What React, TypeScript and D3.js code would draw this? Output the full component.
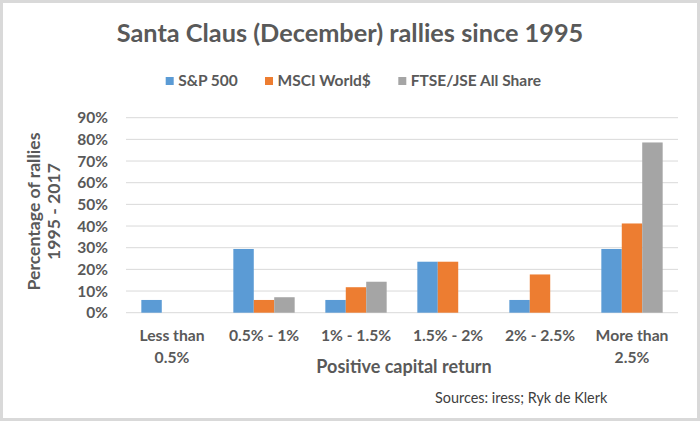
import React from "react";
import * as d3 from "d3";

const categories = ["Less than|0.5%", "0.5% - 1%", "1% - 1.5%", "1.5% - 2%", "2% - 2.5%", "More than|2.5%"];
const seriesNames = ["S&P 500", "MSCI World$", "FTSE/JSE All Share"];
const sp500 = [5.88, 29.41, 5.88, 23.53, 5.88, 29.41];
const msciWorld = [0, 5.88, 11.76, 23.53, 17.65, 41.18];
const ftseJse = [0, 7.14, 14.29, 0, 0, 78.57];
const yTicks = [0, 10, 20, 30, 40, 50, 60, 70, 80, 90];
const colors = ["#5b9bd5", "#ed7d31", "#a5a5a5"];

const W = 700;
const H = 421;
const plot = { left: 126, right: 678, top: 117.7, bottom: 312.7 };
const textColor = "#595959";
const font = "Lato, 'Open Sans', sans-serif";

const App = () => {
  const series = [sp500, msciWorld, ftseJse];
  const x = d3.scaleBand<string>().domain(categories).range([plot.left, plot.right]).padding(0);
  // Excel-style gap width: 150% of one bar
  const inner = d3
    .scaleBand<number>()
    .domain([0, 1, 2])
    .range([0, x.bandwidth()])
    .paddingInner(0)
    .paddingOuter(0.75);
  const y = d3.scaleLinear().domain([0, 90]).range([plot.bottom, plot.top]);

  // legend layout
  const legendX = [165.7, 265, 398.3];

  return (
    <div style={{ position: "absolute", left: 0, top: 0 }}>
      <svg width={W} height={H} style={{ display: "block", fontFamily: font }}>
        <rect x={0} y={0} width={W} height={H} fill="#ffffff" />
        <rect x={1.5} y={1.5} width={W - 3} height={H - 3} fill="none" stroke="#d9d9d9" strokeWidth={3} />
        <text x={350} y={42} textAnchor="middle" fontSize={25.3} fontWeight="bold" fill={textColor}>
          Santa Claus (December) rallies since 1995
        </text>

        {/* legend */}
        {seriesNames.map((name, i) => (
          <g key={name}>
            <rect x={legendX[i]} y={77} width={8} height={8} fill={colors[i]} />
            <text x={legendX[i] + 12.5} y={85.5} fontSize={15.5} fontWeight="bold" fill={textColor}>
              {name}
            </text>
          </g>
        ))}

        {/* gridlines + y ticks */}
        {yTicks.map((t) => (
          <g key={t}>
            <line x1={plot.left} x2={plot.right} y1={y(t)} y2={y(t)} stroke="#d9d9d9" strokeWidth={1} />
            <text x={108} y={y(t) + 5.5} textAnchor="end" fontSize={15.5} fontWeight="bold" fill={textColor}>
              {t}%
            </text>
          </g>
        ))}

        {/* bars */}
        {series.map((vals, si) =>
          vals.map((v, ci) =>
            v > 0 ? (
              <rect
                key={`${si}-${ci}`}
                x={(x(categories[ci]) ?? 0) + (inner(si) ?? 0)}
                y={y(v)}
                width={inner.bandwidth()}
                height={y(0) - y(v)}
                fill={colors[si]}
              />
            ) : null
          )
        )}

        {/* x labels */}
        {categories.map((c) => {
          const cx = (x(c) ?? 0) + x.bandwidth() / 2;
          return (
            <text key={c} x={cx} y={340.7} textAnchor="middle" fontSize={15.7} fontWeight="bold" fill={textColor}>
              {c.split("|").map((line, i) => (
                <tspan key={i} x={cx} dy={i === 0 ? 0 : 22}>
                  {line}
                </tspan>
              ))}
            </text>
          );
        })}

        <text x={404} y={373.3} textAnchor="middle" fontSize={18} fontWeight="bold" fill={textColor}>
          Positive capital return
        </text>

        <text transform="translate(39.5,211.5) rotate(-90)" textAnchor="middle" fontSize={17.6} fontWeight="bold" fill={textColor}>
          Percentage of rallies
        </text>
        <text transform="translate(59.5,211.5) rotate(-90)" textAnchor="middle" fontSize={17.6} fontWeight="bold" fill={textColor}>
          1995 - 2017
        </text>

        <text x={435} y={403.3} fontSize={14.4} fill="#404040">
          Sources: iress; Ryk de Klerk
        </text>
      </svg>
    </div>
  );
};

export default App;
